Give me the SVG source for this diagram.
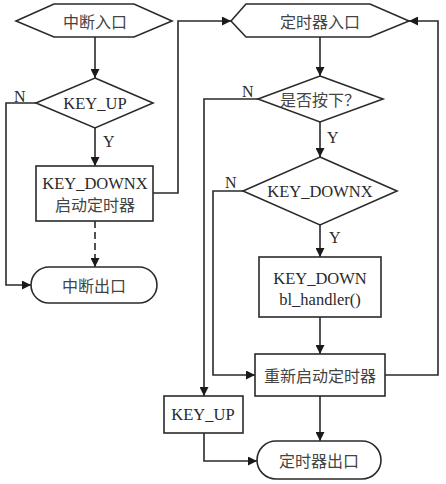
<svg xmlns="http://www.w3.org/2000/svg" width="446" height="484" viewBox="0 0 446 484">
<defs>
<style>
.s{fill:#fff;stroke:#2a2a2a;stroke-width:1.6}
.c{fill:none;stroke:#2a2a2a;stroke-width:1.6}
.d{stroke-dasharray:7 4}
text{font-family:"Liberation Serif","Noto Sans CJK SC",serif;font-size:16.5px;fill:#2a2a2a;text-anchor:middle;dominant-baseline:central}
.zh{font-family:"Noto Sans CJK SC","Liberation Serif",sans-serif;font-size:16px;fill:#444}
.l{font-size:16px;text-anchor:start;dominant-baseline:alphabetic}
</style>
<marker id="a" viewBox="0 0 10 10" refX="10" refY="5" markerWidth="9" markerHeight="9" markerUnits="userSpaceOnUse" orient="auto">
<path d="M0,0L10,5L0,10z" fill="#1a1a1a"/>
</marker>
</defs>
<g id="connectors">
<path class="c" d="M95,37V78" marker-end="url(#a)"/>
<path class="c" d="M36,103H6V285H31" marker-end="url(#a)"/>
<path class="c" d="M95,128V166" marker-end="url(#a)"/>
<path class="c d" d="M95,221V267" marker-end="url(#a)"/>
<path class="c" d="M153,193H178V21H231" marker-end="url(#a)"/>
<path class="c" d="M385,375H438V21H409" marker-end="url(#a)"/>
<path class="c" d="M320,37V76" marker-end="url(#a)"/>
<path class="c" d="M258,99H204V396" marker-end="url(#a)"/>
<path class="c" d="M320,122V157" marker-end="url(#a)"/>
<path class="c" d="M243,191H213V375H255" marker-end="url(#a)"/>
<path class="c" d="M320,225V257" marker-end="url(#a)"/>
<path class="c" d="M320,317V354" marker-end="url(#a)"/>
<path class="c" d="M320,396V441" marker-end="url(#a)"/>
<path class="c" d="M204,433V461H257" marker-end="url(#a)"/>
<text class="l" x="14" y="102">N</text>
<text class="l" x="103" y="147">Y</text>
<text class="l" x="242" y="97">N</text>
<text class="l" x="327" y="143">Y</text>
<text class="l" x="225" y="188">N</text>
<text class="l" x="329" y="243">Y</text>
</g>
<g id="int_entry">
<polygon class="s" points="16,21 54,4 134,4 172,21 134,37 54,37"/>
<text class="zh" x="95" y="21">中断入口</text>
</g>
<g id="key_up_check">
<polygon class="s" points="95,78 153,103 95,128 36,103"/>
<text x="95" y="103">KEY_UP</text>
</g>
<g id="start_timer">
<rect class="s" x="36" y="166" width="117" height="55"/>
<text x="95" y="183">KEY_DOWNX</text>
<text class="zh" x="95" y="204">启动定时器</text>
</g>
<g id="int_exit">
<rect class="s" x="31" y="267" width="126" height="36" rx="18"/>
<text class="zh" x="94" y="285">中断出口</text>
</g>
<g id="timer_entry">
<polygon class="s" points="231,21 246,4 370,4 409,21 370,37 246,37"/>
<text class="zh" x="320" y="21">定时器入口</text>
</g>
<g id="pressed_check">
<polygon class="s" points="320,76 383,99 320,122 258,99"/>
<text class="zh" x="320" y="99">是否按下？</text>
</g>
<g id="keydownx_check">
<polygon class="s" points="320,157 397,191 320,225 243,191"/>
<text x="320" y="191">KEY_DOWNX</text>
</g>
<g id="handler">
<rect class="s" x="259" y="257" width="122" height="60"/>
<text x="320" y="278">KEY_DOWN</text>
<text x="320" y="299">bl_handler()</text>
</g>
<g id="restart_timer">
<rect class="s" x="255" y="354" width="130" height="42"/>
<text class="zh" x="320" y="375">重新启动定时器</text>
</g>
<g id="key_up_box">
<rect class="s" x="164" y="396" width="79" height="37"/>
<text x="203" y="414">KEY_UP</text>
</g>
<g id="timer_exit">
<rect class="s" x="257" y="441" width="124" height="38" rx="19"/>
<text class="zh" x="319" y="460">定时器出口</text>
</g>
</svg>
